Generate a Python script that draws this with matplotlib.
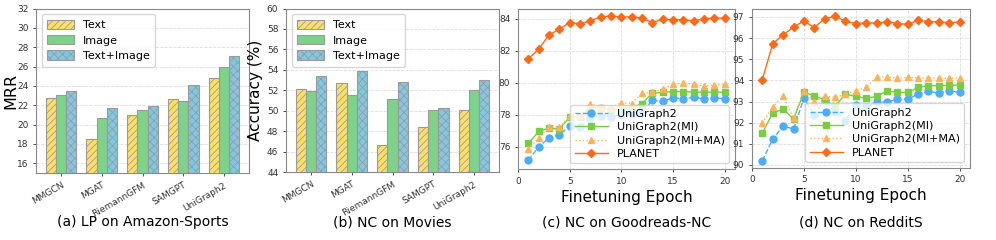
import numpy as np
import matplotlib
matplotlib.use("Agg")
import matplotlib.pyplot as plt

plt.rcParams['font.family'] = ['DejaVu Sans']
plt.rcParams['hatch.linewidth'] = 0.6

# bar chart data
models = ["MMGCN", "MGAT", "RiemannGFM", "SAMGPT", "UniGraph2"]
modalities = ["Text", "Image", "Text+Image"]
lp_text = [22.7, 18.55, 21.03, 22.6, 24.86]
lp_image = [23.1, 20.7, 21.48, 22.48, 25.97]
lp_both = [23.45, 21.72, 21.97, 24.14, 27.1]
nc_text = [52.1, 52.73, 46.6, 48.45, 50.05]
nc_image = [51.93, 51.53, 51.13, 50.03, 52.0]
nc_both = [53.43, 53.9, 52.8, 50.22, 53.02]

# finetuning curves
epochs = list(range(1, 21))
gr_uni = [75.15, 75.98, 76.55, 76.75, 77.28, 77.22, 77.8, 77.95, 77.88, 78.0,
          78.05, 78.15, 78.9, 78.85, 79.05, 79.0, 79.08, 79.0, 79.05, 79.0]
gr_mi = [76.2, 76.95, 77.15, 77.1, 77.85, 77.85, 78.45, 78.45, 78.3, 78.35,
         78.45, 78.7, 79.35, 79.4, 79.45, 79.45, 79.42, 79.4, 79.42, 79.4]
gr_mima = [75.85, 76.55, 77.2, 77.2, 77.9, 77.9, 78.65, 78.5, 78.45, 78.75,
           78.7, 79.35, 79.4, 79.6, 79.9, 80.0, 79.9, 79.8, 79.85, 79.9]
gr_planet = [81.5, 82.1, 83.0, 83.35, 83.77, 83.7, 83.87, 84.14, 84.17, 84.12,
             84.12, 84.04, 83.77, 83.98, 83.94, 83.94, 83.87, 84.0, 84.06, 84.04]
rd_uni = [90.21, 91.23, 91.84, 91.7, 93.15, 92.36, 93.08, 92.52, 92.09, 92.85,
          92.72, 93.0, 92.96, 93.12, 93.12, 93.35, 93.48, 93.4, 93.5, 93.43]
rd_mi = [91.51, 92.46, 92.64, 92.17, 93.43, 93.27, 93.08, 92.77, 93.35, 93.24,
         93.16, 93.24, 93.5, 93.43, 93.43, 93.67, 93.75, 93.75, 93.76, 93.78]
rd_mima = [91.98, 92.75, 93.24, 92.22, 93.51, 93.0, 93.24, 93.2, 93.35, 93.51,
           93.67, 94.14, 94.17, 94.11, 94.14, 94.12, 94.12, 94.11, 94.09, 94.11]
rd_planet = [94.04, 95.74, 96.15, 96.53, 96.81, 96.5, 96.92, 97.03, 96.8, 96.69,
             96.73, 96.7, 96.78, 96.69, 96.65, 96.84, 96.78, 96.76, 96.73, 96.76]

W, H = 996, 240
fig = plt.figure(figsize=(W / 100, H / 100), dpi=100)

def px_axes(l, r, t, b):
    return fig.add_axes([l / W, (H - b) / H, (r - l) / W, (b - t) / H])

def caption(ax, text):
    pos = ax.get_position()
    fig.text(pos.x0 + pos.width / 2, 1 - 222 / H, text, ha="center",
             va="center", fontsize=10)

bar_colors = ["#FFE066", "#7DD38A", "#80C8E6"]
hatches = ["/////", "", "xxxx"]
spine_col = "#888888"

def style_axes(ax):
    for s in ax.spines.values():
        s.set_color(spine_col)
    ax.tick_params(colors="#333333", labelsize=6.5, length=2, width=0.6)

def bar_panel(ax, vals, ylim, yticks, ylabel, ylab_size, cap, lab_x):
    x = np.arange(len(models))
    w = 0.25
    for i, (v, name) in enumerate(zip(vals, modalities)):
        ax.bar(x + (i - 1) * w, v, w, color=bar_colors[i], hatch=hatches[i],
               edgecolor="#9a9a9a", linewidth=0.8, label=name, zorder=3)
    ax.set_ylim(*ylim)
    ax.set_yticks(yticks)
    ax.set_xticks(x)
    ax.set_xticklabels(models, rotation=30, ha="right", fontsize=8.5,
                       rotation_mode="anchor")
    ax.yaxis.grid(True, linestyle="--", color="#dddddd", linewidth=0.6, zorder=0)
    ax.set_axisbelow(True)
    ax.set_ylabel(ylabel, fontsize=ylab_size)
    ax.yaxis.set_label_coords(lab_x, 0.5)
    style_axes(ax)
    ax.legend(loc="upper left", fontsize=8, frameon=True, handlelength=2.4,
              handleheight=0.9, borderpad=0.5, labelspacing=0.45)
    caption(ax, cap)

ax_a = px_axes(36, 249, 8.5, 173)
bar_panel(ax_a, [lp_text, lp_image, lp_both], (15, 32), range(16, 33, 2),
          "MRR", 11.5, "(a) LP on Amazon-Sports", -0.085)

ax_b = px_axes(286, 499, 8.5, 172)
bar_panel(ax_b, [nc_text, nc_image, nc_both], (44, 60), range(44, 61, 2),
          "Accuracy (%)", 11, "(b) NC on Movies", -0.11)

def line_panel(ax, uni, mi, mima, planet, ylim, yticks, cap):
    ax.plot(epochs, uni, "--", color="#4DADF7", marker="o", markersize=5,
            linewidth=1.0, label="UniGraph2", zorder=3)
    ax.plot(epochs, mi, "-", color="#7ACC45", marker="s", markersize=5,
            linewidth=1.0, label="UniGraph2(MI)", zorder=3)
    ax.plot(epochs, mima, ":", color="#FFB35C", marker="^", markersize=5,
            linewidth=1.0, label="UniGraph2(MI+MA)", zorder=3)
    ax.plot(epochs, planet, "-", color="#FF6A1A", marker="D", markersize=4.5,
            linewidth=1.0, label="PLANET", zorder=4)
    ax.set_xlim(0, 21)
    ax.set_xticks([0, 5, 10, 15, 20])
    ax.set_ylim(*ylim)
    ax.set_yticks(yticks)
    ax.grid(True, linestyle="--", color="#dddddd", linewidth=0.6)
    ax.set_axisbelow(True)
    style_axes(ax)
    ax.set_xlabel("Finetuning Epoch", fontsize=11, labelpad=3)
    ax.legend(loc="lower right", fontsize=8, frameon=True, handlelength=3,
              borderpad=0.4, labelspacing=0.3)
    caption(ax, cap)

ax_c = px_axes(518, 735, 8.5, 169)
line_panel(ax_c, gr_uni, gr_mi, gr_mima, gr_planet, (74.6, 84.65),
           [76, 78, 80, 82, 84], "(c) NC on Goodreads-NC")

ax_d = px_axes(752, 970, 8.5, 167.5)
line_panel(ax_d, rd_uni, rd_mi, rd_mima, rd_planet, (89.88, 97.4),
           range(90, 98), "(d) NC on RedditS")

fig.savefig("out.png", dpi=100)
